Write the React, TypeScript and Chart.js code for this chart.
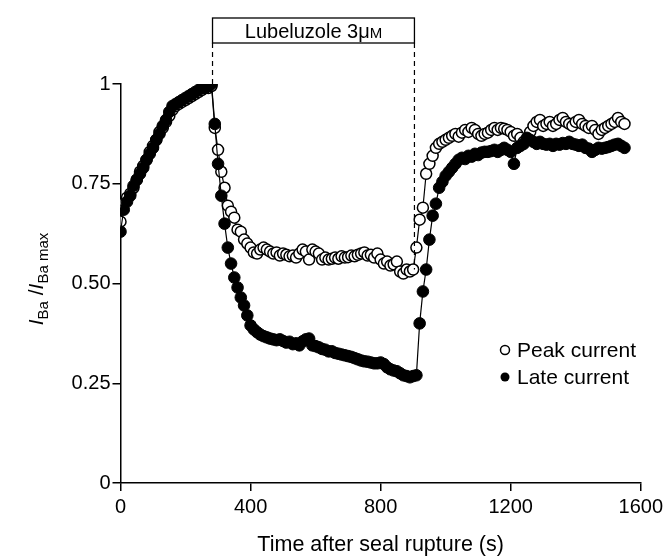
import React, { useEffect, useRef } from "react";
import { Chart, registerables } from "chart.js";

Chart.register(...registerables);

// Time after seal rupture (s)
const times = [
  0, 10, 20, 30, 40, 50, 60, 70, 80, 90,
  100, 110, 120, 130, 140, 150, 160, 170, 180, 190,
  200, 210, 220, 230, 240, 250, 260, 270, 280, 290,
  300, 310, 320, 330, 340, 350, 360, 370, 380, 390,
  400, 410, 420, 430, 440, 450, 460, 470, 480, 490,
  500, 510, 520, 530, 540, 550, 560, 570, 580, 590,
  600, 610, 620, 630, 640, 650, 660, 670, 680, 690,
  700, 710, 720, 730, 740, 750, 760, 770, 780, 790,
  800, 810, 820, 830, 840, 850, 860, 870, 880, 890,
  900, 910, 920, 930, 940, 950, 960, 970, 980, 990,
  1000, 1010, 1020, 1030, 1040, 1050, 1060, 1070, 1080, 1090,
  1100, 1110, 1120, 1130, 1140, 1150, 1160, 1170, 1180, 1190,
  1200, 1210, 1220, 1230, 1240, 1250, 1260, 1270, 1280, 1290,
  1300, 1310, 1320, 1330, 1340, 1350, 1360, 1370, 1380, 1390,
  1400, 1410, 1420, 1430, 1440, 1450, 1460, 1470, 1480, 1490,
  1500, 1510, 1520, 1530, 1540, 1550,
];

const lateCurrent = [
  0.63, 0.685, 0.705, 0.72, 0.745, 0.76, 0.775, 0.79, 0.81, 0.825,
  0.84, 0.86, 0.875, 0.895, 0.91, 0.93, 0.945, 0.95, 0.955, 0.96,
  0.965, 0.97, 0.975, 0.98, 0.985, 0.99, 0.99, 0.995, 1.0, 0.9,
  0.8, 0.72, 0.65, 0.59, 0.55, 0.515, 0.49, 0.465, 0.445, 0.42,
  0.395, 0.385, 0.378, 0.372, 0.368, 0.365, 0.362, 0.36, 0.358, 0.36,
  0.356, 0.352, 0.354, 0.348, 0.35, 0.345, 0.355, 0.36, 0.362, 0.345,
  0.343, 0.34, 0.336, 0.334, 0.33, 0.33, 0.326, 0.324, 0.322, 0.32,
  0.318, 0.316, 0.313, 0.31, 0.307, 0.305, 0.304, 0.302, 0.3, 0.3,
  0.302, 0.298, 0.29, 0.285, 0.282, 0.28, 0.275, 0.27, 0.268, 0.265,
  0.268, 0.27, 0.4, 0.48, 0.535, 0.61, 0.67, 0.7, 0.74, 0.755,
  0.77, 0.78, 0.79, 0.8, 0.81, 0.815, 0.812, 0.82, 0.818, 0.825,
  0.822, 0.828, 0.83, 0.83, 0.832, 0.835, 0.83, 0.835, 0.84, 0.835,
  0.83, 0.8, 0.84, 0.845, 0.85, 0.865, 0.86, 0.855, 0.85, 0.855,
  0.85, 0.848, 0.85, 0.845, 0.85, 0.848, 0.852, 0.85, 0.855, 0.85,
  0.848, 0.845, 0.848, 0.84, 0.838, 0.83, 0.835, 0.84, 0.838, 0.84,
  0.842, 0.845, 0.848, 0.85, 0.845, 0.84,
];

const peakCurrent = [
  0.655, 0.7, 0.715, 0.725, 0.74, 0.76, 0.78, 0.795, 0.81, 0.83,
  0.845, 0.86, 0.88, 0.89, 0.905, 0.92, 0.935, 0.945, 0.95, 0.955,
  0.96, 0.965, 0.97, 0.975, 0.98, 0.985, 0.99, 0.99, 0.995, 0.89,
  0.835, 0.78, 0.74, 0.695, 0.68, 0.665, 0.635, 0.63, 0.61, 0.6,
  0.59, 0.578, 0.575, 0.585, 0.59, 0.585, 0.58, 0.575, 0.578, 0.57,
  0.575, 0.572, 0.568, 0.57, 0.565, 0.575, 0.585, 0.58, 0.56, 0.585,
  0.58, 0.575, 0.56, 0.565, 0.56, 0.562, 0.565, 0.562, 0.568, 0.565,
  0.566, 0.57, 0.568, 0.572, 0.575, 0.578, 0.57, 0.572, 0.565, 0.575,
  0.56, 0.55, 0.555, 0.545, 0.548, 0.555, 0.53, 0.525, 0.535, 0.53,
  0.535, 0.59, 0.66, 0.69, 0.775, 0.8, 0.82, 0.84, 0.85, 0.855,
  0.86, 0.865, 0.87, 0.875, 0.868, 0.878, 0.885, 0.88, 0.89, 0.885,
  0.875, 0.87, 0.875, 0.878, 0.885, 0.89, 0.885, 0.89, 0.888, 0.885,
  0.88, 0.87, 0.875, 0.865, 0.855, 0.86, 0.88, 0.895, 0.905, 0.91,
  0.895, 0.9, 0.905, 0.895, 0.9, 0.91, 0.915, 0.905, 0.9, 0.895,
  0.905, 0.91, 0.9, 0.895, 0.89, 0.895, 0.885, 0.875, 0.885, 0.89,
  0.895, 0.9, 0.905, 0.915, 0.905, 0.9,
];

const xTickValues = [0, 400, 800, 1200, 1600];
const xTickLabels = ["0", "400", "800", "1200", "1600"];
const yTickValues = [0, 0.25, 0.5, 0.75, 1];
const yTickLabels = ["0", "0.25", "0.50", "0.75", "1"];

// Drug application period (s) and where the dashed markers end (y value)
const drugStart = 283;
const drugEnd = 904;
const drugMarkerEnds = [1.0, 0.535];
const drugLabel = "Lubeluzole 3";

const seriesNames = ["Late current", "Peak current"];
const xTitle = "Time after seal rupture (s)";

const FONT = "'Liberation Sans', Arial, Helvetica, sans-serif";

const annotPlugin = {
  id: "annot",
  afterDraw(chart: any) {
    const ctx: CanvasRenderingContext2D = chart.ctx;
    const xs = chart.scales.x;
    const ys = chart.scales.y;
    ctx.save();
    ctx.fillStyle = "#000";
    ctx.strokeStyle = "#000";

    // Drug box
    const x1 = xs.getPixelForValue(drugStart);
    const x2 = xs.getPixelForValue(drugEnd);
    const boxTop = 18;
    const boxBot = 43;
    ctx.lineWidth = 1.3;
    ctx.strokeRect(x1, boxTop, x2 - x1, boxBot - boxTop);
    // label
    ctx.textBaseline = "alphabetic";
    ctx.font = `20px ${FONT}`;
    const w1 = ctx.measureText(drugLabel).width;
    const w2 = ctx.measureText("\u03bc").width;
    ctx.font = `15px ${FONT}`;
    const w3 = ctx.measureText("M").width;
    let tx = (x1 + x2) / 2 - (w1 + w2 + w3) / 2;
    const ty = 38;
    ctx.font = `20px ${FONT}`;
    ctx.textAlign = "left";
    ctx.fillText(drugLabel, tx, ty);
    tx += w1;
    ctx.fillText("\u03bc", tx, ty);
    tx += w2;
    ctx.font = `15px ${FONT}`;
    ctx.fillText("M", tx, ty);

    // dashed markers
    ctx.setLineDash([5, 4]);
    ctx.lineWidth = 1.2;
    ctx.beginPath();
    ctx.moveTo(x1, boxBot);
    ctx.lineTo(x1, ys.getPixelForValue(drugMarkerEnds[0]));
    ctx.moveTo(x2, boxBot);
    ctx.lineTo(x2, ys.getPixelForValue(drugMarkerEnds[1]));
    ctx.stroke();
    ctx.setLineDash([]);

    // Legend
    const lx = 505;
    const rows = [
      { name: seriesNames[1], y: 350, filled: false },
      { name: seriesNames[0], y: 377, filled: true },
    ];
    ctx.font = `21px ${FONT}`;
    ctx.textBaseline = "middle";
    rows.forEach((r) => {
      ctx.beginPath();
      ctx.arc(lx, r.y, 4.5, 0, Math.PI * 2);
      if (r.filled) {
        ctx.fillStyle = "#000";
        ctx.fill();
      } else {
        ctx.fillStyle = "#fff";
        ctx.fill();
        ctx.lineWidth = 1.5;
        ctx.stroke();
      }
      ctx.fillStyle = "#000";
      ctx.fillText(r.name, 517, r.y + 1);
    });

    // X title
    ctx.textAlign = "center";
    ctx.textBaseline = "alphabetic";
    ctx.font = `21.5px ${FONT}`;
    ctx.fillText(xTitle, (xs.left + xs.right) / 2, 551);

    // Y title: I_Ba / I_Ba max
    const segs = [
      { t: "I", f: `italic 21px ${FONT}`, dy: 0 },
      { t: "Ba", f: `15px ${FONT}`, dy: 5 },
      { t: " /", f: `21px ${FONT}`, dy: 0 },
      { t: "I", f: `italic 21px ${FONT}`, dy: 0 },
      { t: "Ba max", f: `15px ${FONT}`, dy: 5 },
    ];
    let total = 0;
    const widths = segs.map((s) => {
      ctx.font = s.f;
      const w = ctx.measureText(s.t).width;
      total += w;
      return w;
    });
    ctx.translate(43, 279);
    ctx.rotate(-Math.PI / 2);
    ctx.textAlign = "left";
    let px = -total / 2;
    segs.forEach((s, i) => {
      ctx.font = s.f;
      ctx.fillText(s.t, px, s.dy);
      px += widths[i];
    });
    ctx.restore();
  },
};

export default function App() {
  const ref = useRef<HTMLCanvasElement | null>(null);

  useEffect(() => {
    if (!ref.current) return;
    const late = times.map((t, i) => ({ x: t, y: lateCurrent[i] }));
    const peak = times.map((t, i) => ({ x: t, y: peakCurrent[i] }));
    const tickFont = { family: FONT, size: 20 };
    const gridOpts = {
      display: true,
      drawOnChartArea: false,
      drawTicks: true,
      tickLength: 8,
      color: "#000",
      lineWidth: 1.5,
    };
    const chart = new Chart(ref.current, {
      type: "line",
      data: {
        datasets: [
          {
            label: seriesNames[0],
            data: late,
            borderColor: "#000",
            borderWidth: 1.2,
            backgroundColor: "#000",
            pointBackgroundColor: "#000",
            pointBorderColor: "#000",
            pointBorderWidth: 1,
            pointRadius: 5.8,
            tension: 0,
            order: 0,
          },
          {
            label: seriesNames[1],
            data: peak,
            borderColor: "#000",
            borderWidth: 1.2,
            backgroundColor: "#fff",
            pointBackgroundColor: "#fff",
            pointBorderColor: "#000",
            pointBorderWidth: 1.5,
            pointRadius: 5.5,
            tension: 0,
            order: 1,
          },
        ],
      },
      options: {
        responsive: false,
        animation: false,
        events: [],
        layout: { padding: { top: 84, right: 23, left: 0, bottom: 0 } },
        plugins: {
          legend: { display: false },
          tooltip: { enabled: false },
          title: { display: false },
        },
        scales: {
          x: {
            type: "linear",
            min: 0,
            max: 1600,
            afterBuildTicks: (s: any) => {
              s.ticks = xTickValues.map((v) => ({ value: v }));
            },
            afterFit: (s: any) => {
              s.height = 74;
            },
            ticks: {
              color: "#000",
              font: tickFont,
              padding: 4,
              maxRotation: 0,
              autoSkip: false,
              callback: (v: any) => {
                const i = xTickValues.indexOf(Number(v));
                return i >= 0 ? xTickLabels[i] : "";
              },
            },
            grid: gridOpts,
            border: { display: true, color: "#000", width: 1.5 },
          },
          y: {
            type: "linear",
            min: 0,
            max: 1,
            afterBuildTicks: (s: any) => {
              s.ticks = yTickValues.map((v) => ({ value: v }));
            },
            afterFit: (s: any) => {
              s.width = 120.5;
            },
            ticks: {
              color: "#000",
              font: tickFont,
              padding: 2,
              autoSkip: false,
              callback: (v: any) => {
                const i = yTickValues.findIndex((t) => Math.abs(t - v) < 1e-6);
                return i >= 0 ? yTickLabels[i] : "";
              },
            },
            grid: gridOpts,
            border: { display: true, color: "#000", width: 1.5 },
          },
        },
      },
      plugins: [annotPlugin],
    });
    return () => chart.destroy();
  }, []);

  return (
    <div style={{ position: "fixed", left: 0, top: 0, width: 667, height: 557, background: "#fff" }}>
      <canvas ref={ref} width={667} height={557} />
    </div>
  );
}
